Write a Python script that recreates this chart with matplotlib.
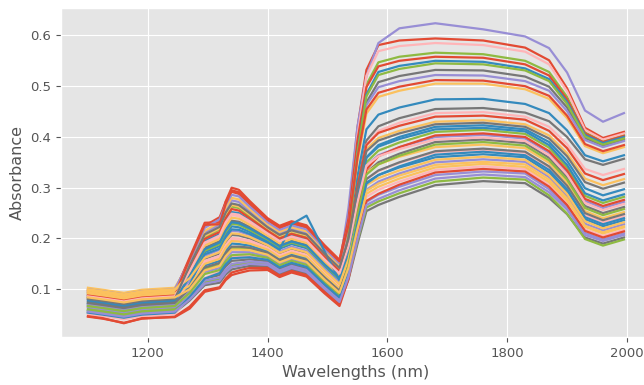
import matplotlib
matplotlib.use("Agg")
import matplotlib.pyplot as plt

plt.style.use("ggplot")

wavelengths = [1100, 1125, 1160, 1190, 1245, 1270, 1295, 1320, 1330, 1340,
               1352, 1370, 1400, 1420, 1440, 1465, 1495, 1520, 1535, 1550,
               1565, 1585, 1620, 1680, 1760, 1830, 1870, 1900, 1930, 1960,
               1995]

# absorbance, one list per sample
s00 = [.098, .094, .088, .094, .098, .158, .225, .242, .272, .292, .288, .267, .235, .220, .229, .221, .182, .154, .242, .418, .532, .581, .590, .594, .590, .576, .551, .496, .418, .398, .410]
s01 = [.081, .077, .071, .077, .081, .138, .195, .209, .235, .252, .250, .236, .212, .197, .206, .198, .161, .133, .201, .323, .415, .444, .458, .474, .475, .465, .447, .413, .364, .352, .364]
s02 = [.089, .085, .079, .085, .089, .150, .212, .228, .256, .275, .272, .254, .225, .210, .219, .211, .173, .145, .260, .420, .520, .585, .614, .624, .612, .598, .575, .527, .452, .430, .447]
s03 = [.086, .082, .076, .082, .086, .129, .182, .195, .219, .235, .233, .223, .202, .187, .196, .188, .151, .124, .206, .360, .468, .508, .520, .532, .531, .519, .499, .458, .398, .383, .395]
s04 = [.103, .099, .093, .099, .103, .152, .215, .232, .261, .280, .277, .258, .228, .213, .222, .214, .176, .147, .219, .351, .446, .479, .491, .505, .505, .494, .475, .437, .382, .368, .380]
s05 = [.092, .088, .082, .088, .092, .143, .202, .218, .245, .263, .260, .244, .218, .203, .212, .204, .166, .138, .224, .391, .503, .547, .558, .566, .563, .550, .528, .479, .409, .392, .404]
s06 = [.078, .074, .068, .074, .078, .134, .189, .203, .229, .246, .244, .231, .208, .193, .202, .194, .157, .129, .220, .401, .520, .569, .579, .585, .581, .568, .543, .490, .414, .395, .407]
s07 = [.095, .091, .085, .091, .095, .163, .231, .232, .273, .300, .296, .274, .240, .225, .234, .226, .187, .158, .238, .393, .498, .539, .550, .558, .556, .543, .521, .474, .407, .390, .402]
s08 = [.070, .066, .060, .066, .070, .123, .173, .185, .208, .224, .222, .213, .195, .180, .189, .181, .145, .118, .204, .371, .484, .528, .540, .550, .548, .535, .514, .469, .404, .388, .400]
s09 = [.100, .096, .090, .096, .100, .156, .221, .238, .267, .286, .283, .263, .232, .217, .226, .218, .180, .151, .225, .364, .463, .498, .510, .522, .521, .510, .491, .451, .394, .380, .392]
s10 = [.076, .072, .066, .072, .076, .114, .160, .170, .192, .207, .206, .200, .185, .170, .179, .171, .135, .109, .178, .300, .393, .421, .437, .455, .457, .448, .431, .400, .356, .345, .357]
s11 = [.095, .091, .085, .091, .095, .145, .205, .220, .248, .266, .263, .247, .220, .205, .214, .206, .168, .140, .198, .298, .376, .398, .412, .430, .433, .425, .403, .368, .318, .305, .317]
s12 = [.084, .080, .074, .080, .084, .125, .176, .189, .213, .229, .227, .217, .198, .183, .192, .184, .148, .120, .205, .368, .480, .522, .534, .545, .543, .531, .510, .465, .401, .385, .397]
s13 = [.065, .061, .055, .061, .065, .109, .153, .163, .184, .198, .197, .193, .180, .165, .174, .166, .131, .104, .173, .292, .385, .412, .428, .447, .449, .440, .420, .386, .337, .325, .337]
s14 = [.089, .085, .079, .085, .089, .160, .227, .228, .268, .295, .291, .270, .237, .222, .231, .223, .184, .155, .226, .359, .454, .487, .499, .512, .511, .500, .481, .442, .386, .372, .384]
s15 = [.073, .069, .063, .069, .073, .105, .147, .156, .176, .190, .189, .186, .175, .160, .169, .161, .126, .100, .164, .273, .360, .384, .400, .420, .423, .415, .390, .353, .299, .285, .297]
s16 = [.067, .063, .057, .063, .067, .118, .166, .178, .200, .215, .214, .207, .190, .175, .184, .176, .140, .113, .170, .266, .344, .364, .380, .400, .404, .397, .369, .330, .274, .260, .272]
s17 = [.059, .055, .049, .055, .059, .087, .121, .128, .145, .156, .157, .159, .155, .140, .149, .141, .107, .082, .144, .245, .330, .350, .367, .390, .395, .388, .359, .320, .264, .250, .262]
s18 = [.098, .094, .088, .094, .098, .132, .186, .199, .224, .241, .239, .227, .205, .190, .199, .191, .154, .127, .178, .260, .330, .346, .361, .380, .385, .378, .349, .310, .254, .240, .252]
s19 = [.062, .058, .052, .058, .062, .100, .140, .149, .168, .181, .181, .180, .170, .155, .164, .156, .121, .095, .158, .264, .350, .373, .389, .410, .414, .406, .379, .340, .284, .270, .282]
s20 = [.081, .077, .071, .077, .081, .111, .156, .166, .187, .201, .200, .196, .182, .167, .176, .168, .133, .106, .159, .244, .317, .333, .349, .370, .375, .369, .340, .301, .246, .232, .244]
s21 = [.084, .080, .074, .080, .084, .141, .199, .213, .240, .258, .255, .240, .215, .200, .209, .201, .164, .136, .197, .302, .384, .408, .422, .440, .442, .434, .412, .378, .328, .315, .327]
s22 = [.056, .052, .046, .052, .056, .110, .169, .180, .203, .218, .217, .209, .192, .178, .228, .245, .175, .118, .166, .244, .310, .325, .340, .360, .366, .360, .330, .292, .238, .224, .236]
s23 = [.070, .066, .060, .066, .070, .096, .134, .142, .161, .173, .173, .173, .165, .150, .159, .151, .117, .091, .143, .225, .296, .312, .328, .350, .356, .351, .321, .283, .229, .216, .228]
s24 = [.054, .050, .044, .050, .054, .078, .108, .113, .129, .139, .142, .146, .145, .130, .139, .131, .098, .073, .119, .189, .254, .266, .282, .305, .313, .309, .280, .248, .202, .190, .202]
s25 = [.092, .088, .082, .088, .092, .107, .150, .160, .181, .195, .194, .190, .178, .163, .172, .164, .129, .102, .151, .227, .294, .308, .324, .345, .351, .346, .316, .279, .225, .212, .224]
s26 = [.059, .055, .049, .055, .059, .082, .114, .120, .136, .147, .149, .153, .150, .135, .144, .136, .102, .077, .124, .195, .261, .273, .289, .312, .320, .316, .285, .249, .199, .186, .198]
s27 = [.051, .047, .041, .047, .051, .085, .122, .135, .152, .164, .165, .166, .160, .145, .154, .146, .112, .086, .136, .213, .282, .296, .312, .335, .342, .337, .306, .270, .218, .205, .217]
s28 = [.046, .042, .034, .042, .046, .066, .098, .104, .121, .133, .137, .142, .142, .127, .136, .128, .095, .070, .136, .246, .336, .362, .380, .403, .407, .400, .372, .334, .278, .264, .276]
s29 = [.078, .074, .068, .074, .078, .127, .179, .192, .216, .232, .230, .220, .200, .185, .194, .186, .149, .122, .181, .280, .359, .381, .396, .415, .418, .411, .384, .345, .289, .275, .287]
s30 = [.065, .061, .055, .061, .065, .084, .117, .123, .139, .150, .152, .155, .152, .137, .146, .138, .104, .079, .128, .204, .272, .286, .302, .325, .332, .328, .297, .262, .211, .198, .210]
s31 = [.073, .069, .063, .069, .073, .102, .143, .152, .171, .184, .184, .182, .172, .157, .166, .158, .123, .097, .152, .241, .317, .334, .350, .372, .377, .371, .342, .304, .250, .236, .248]
s32 = [.100, .096, .090, .096, .100, .122, .162, .173, .195, .210, .209, .203, .187, .172, .181, .173, .137, .110, .159, .237, .305, .319, .334, .355, .361, .355, .325, .288, .234, .220, .232]
s33 = [.067, .063, .057, .063, .067, .093, .130, .138, .155, .167, .168, .169, .162, .147, .156, .148, .114, .088, .147, .245, .326, .346, .363, .385, .390, .383, .354, .316, .260, .246, .258]
s34 = [.086, .082, .076, .082, .086, .136, .192, .206, .232, .249, .247, .234, .210, .195, .204, .196, .159, .131, .184, .271, .344, .362, .376, .395, .399, .392, .364, .326, .270, .256, .268]
s35 = [.047, .043, .033, .043, .045, .062, .095, .102, .118, .128, .132, .137, .138, .124, .133, .125, .092, .067, .120, .201, .274, .288, .306, .330, .337, .332, .302, .266, .215, .202, .214]
s36 = [.054, .050, .044, .050, .054, .085, .121, .132, .149, .161, .162, .163, .158, .143, .152, .144, .110, .084, .140, .230, .308, .325, .342, .365, .371, .364, .335, .297, .242, .228, .240]
s37 = [.056, .052, .046, .052, .056, .080, .111, .117, .133, .144, .146, .150, .148, .133, .142, .134, .101, .075, .124, .198, .266, .278, .295, .318, .326, .321, .291, .257, .207, .195, .207]
s38 = [.081, .077, .071, .077, .081, .147, .208, .223, .251, .269, .266, .250, .222, .207, .216, .208, .170, .142, .199, .295, .372, .393, .407, .425, .428, .420, .397, .362, .311, .298, .310]
s39 = [.084, .080, .074, .080, .084, .100, .137, .146, .165, .178, .178, .177, .168, .153, .162, .154, .119, .093, .142, .219, .288, .302, .318, .340, .347, .341, .311, .275, .223, .210, .222]

spectra = [s00, s01, s02, s03, s04, s05, s06, s07, s08, s09,
           s10, s11, s12, s13, s14, s15, s16, s17, s18, s19,
           s20, s21, s22, s23, s24, s25, s26, s27, s28, s29,
           s30, s31, s32, s33, s34, s35, s36, s37, s38, s39]

fig = plt.figure(figsize=(6.44, 3.85), dpi=100)
# the original was cropped on the right, so the axes run past the figure edge
ax = fig.add_axes([0.0947, 0.1247, 0.916, 0.8545])

for s in spectra:
    ax.plot(wavelengths, s, linewidth=1.6, solid_joinstyle="round")

ax.set_xlim(1055, 2040)
ax.set_ylim(0.006, 0.654)
ax.tick_params(labelsize=9.5)
ax.set_xlabel("Wavelengths (nm)", fontsize=11.5)
ax.set_ylabel("Absorbance", fontsize=11.5)

fig.savefig("out.png", dpi=100)
